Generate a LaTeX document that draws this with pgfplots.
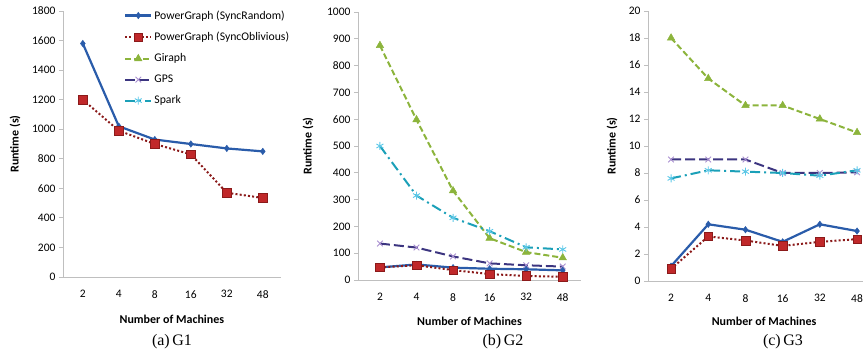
\documentclass[border=0pt]{standalone}
\usepackage{fontspec}
\setmainfont{Carlito}
\newfontfamily\capfont{Liberation Serif}
\usepackage{pgfplots}
\pgfplotsset{compat=1.18}
\definecolor{cRand}{HTML}{2A5CAA}
\definecolor{cObl}{HTML}{8B1A1A}
\definecolor{cOblM}{HTML}{C0282A}
\definecolor{cGir}{HTML}{8CB43C}
\definecolor{cGPS}{HTML}{3C3580}
\definecolor{cGPSM}{HTML}{A98FD0}
\definecolor{cSpk}{HTML}{1BA0B8}
\definecolor{cSpkM}{HTML}{5CC8E8}
\definecolor{axgray}{HTML}{BFBFBF}
\pgfplotsset{
  base/.style={
    scale only axis, anchor=south west, clip=false,
    axis lines*=left,
    axis line style={draw=axgray, line width=0.8pt},
    xtick={0,...,5}, xticklabels={2,4,8,16,32,48},
    x tick style={draw=none},
    y tick style={draw=axgray, line width=0.8pt},
    tick align=outside, major tick length=4pt,
    tick label style={font=\fontsize{11.5}{13}\selectfont},
    xticklabel style={yshift=-6pt},
    /pgf/number format/assume math mode=true,
    /pgf/number format/1000 sep={},
    label style={font=\bfseries\fontsize{12}{14}\selectfont},
    xlabel={Number of Machines},
    ylabel={Runtime (s)},
    ymin=0,
  },
  pRand/.style={cRand, line width=2.2pt, mark=diamond*, mark size=3.2pt, mark options={solid, fill=cRand, draw=cRand, line width=0.5pt}},
  pObl/.style={cObl, line width=2pt, dash pattern=on 2pt off 2.2pt, mark=square*, mark size=4.3pt, mark options={solid, fill=cOblM, draw=cObl, line width=0.5pt}},
  pGir/.style={cGir, line width=2pt, dash pattern=on 6pt off 3pt, mark=triangle*, mark size=4.3pt, mark options={solid, fill=cGir, draw=cGir, line width=0.5pt}},
  pGPS/.style={cGPS, line width=2pt, dash pattern=on 10pt off 4pt, mark=x, mark size=4pt, mark options={solid, draw=cGPSM, line width=0.9pt}},
  pSpk/.style={cSpk, line width=2pt, dash pattern=on 10pt off 4pt on 2pt off 4pt, mark=asterisk, mark size=4pt, mark options={solid, draw=cSpkM, line width=0.9pt}},
}
\begin{document}
\begin{tikzpicture}[x=1pt,y=1pt]
\useasboundingbox (0,0) rectangle (864,358);
% ---------- (a) G1
\begin{axis}[base, at={(63pt,81pt)}, width=217.8pt, height=266pt,
  xmin=-0.55, xmax=5.5, ymax=1800, ytick={0,200,...,1800},
  ylabel style={at={(axis description cs:-0.22,0.5)}, anchor=center},
  xlabel style={at={(axis description cs:0.5,-0.158)}, anchor=center},
  legend style={at={(axis description cs:0.28,1.01)}, anchor=north west, draw=none, fill=none,
    font=\fontsize{11.7}{13}\selectfont, row sep=7.6pt, inner sep=0pt},
  legend cell align=left,
  legend image code/.code={\draw[mark repeat=2,mark phase=2] plot coordinates {(0pt,0pt)(13pt,0pt)(26pt,0pt)};},
]
\addplot[pRand] coordinates {(0,1580)(1,1020)(2,930)(3,900)(4,870)(5,850)};
\addlegendentry{PowerGraph (SyncRandom)}
\addplot[pObl] coordinates {(0,1200)(1,990)(2,900)(3,830)(4,570)(5,535)};
\addlegendentry{PowerGraph (SyncOblivious)}
\addlegendimage{pGir}
\addlegendentry{Giraph}
\addlegendimage{pGPS}
\addlegendentry{GPS}
\addlegendimage{pSpk}
\addlegendentry{Spark}
\end{axis}
% ---------- (b) G2
\begin{axis}[base, at={(358pt,78pt)}, width=223pt, height=268pt,
  xmin=-0.6, xmax=5.5, ymax=1000, ytick={0,100,...,1000},
  ylabel style={at={(axis description cs:-0.224,0.5)}, anchor=center},
  xlabel style={at={(axis description cs:0.5,-0.153)}, anchor=center},
]
\addplot[pGir] coordinates {(0,875)(1,598)(2,333)(3,156)(4,104)(5,83)};
\addplot[pSpk] coordinates {(0,500)(1,315)(2,232)(3,182)(4,122)(5,114)};
\addplot[pGPS] coordinates {(0,136)(1,121)(2,88)(3,62)(4,55)(5,50)};
\addplot[pRand] coordinates {(0,47)(1,58)(2,46)(3,42)(4,40)(5,36)};
\addplot[pObl] coordinates {(0,47)(1,55)(2,37)(3,22)(4,15)(5,12)};
\end{axis}
% ---------- (c) G3
\begin{axis}[base, at={(648pt,77pt)}, width=215pt, height=270pt,
  xmin=-0.62, xmax=5.16, ymax=20, ytick={0,2,...,20},
  ylabel style={at={(axis description cs:-0.167,0.5)}, anchor=center},
  xlabel style={at={(axis description cs:0.54,-0.15)}, anchor=center},
]
\addplot[pGir] coordinates {(0,18)(1,15)(2,13)(3,13)(4,12)(5,11)};
\addplot[pGPS] coordinates {(0,9)(1,9)(2,9)(3,8)(4,8)(5,8.05)};
\addplot[pSpk] coordinates {(0,7.6)(1,8.2)(2,8.1)(3,8.0)(4,7.8)(5,8.2)};
\addplot[pRand] coordinates {(0,1.1)(1,4.2)(2,3.8)(3,2.9)(4,4.2)(5,3.7)};
\addplot[pObl] coordinates {(0,0.9)(1,3.3)(2,3.0)(3,2.6)(4,2.9)(5,3.1)};
\end{axis}
\node[font=\capfont\fontsize{16}{18}\selectfont] at (172,16) {(a)\,G1};
\node[font=\capfont\fontsize{16}{18}\selectfont] at (503,16) {(b)\,G2};
\node[font=\capfont\fontsize{16}{18}\selectfont] at (783,16) {(c)\,G3};
\end{tikzpicture}
\end{document}
